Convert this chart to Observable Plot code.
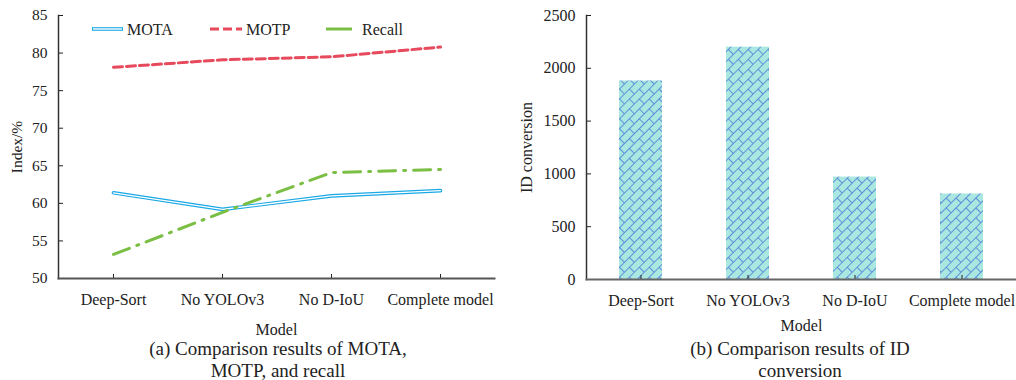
<!DOCTYPE html>
<html>
<head>
<meta charset="utf-8">
<script src="https://cdn.jsdelivr.net/npm/d3@7"></script>
<script src="https://cdn.jsdelivr.net/npm/@observablehq/plot@0.6"></script>
<style>
  html, body { margin: 0; padding: 0; background: #fff; }
  #wrap { position: relative; width: 1016px; height: 380px; overflow: hidden; font-family: "Liberation Serif", serif; color: #222; }
  #left { position: absolute; left: 0; top: 0; }
  #right { position: absolute; left: 500px; top: 0; }
  .cap { position: absolute; top: 338px; font-size: 19px; line-height: 22px; text-align: center; white-space: nowrap; transform: translateX(-50%); }
  #legend { position: absolute; left: 0; top: 0; }
</style>
</head>
<body>
<div id="wrap">
  <div id="left"></div>
  <div id="right"></div>
  <svg id="legend" width="500" height="50"></svg>
  <div class="cap" style="left:278px">(a) Comparison results of MOTA,<br>MOTP, and recall</div>
  <div class="cap" style="left:800px">(b) Comparison results of ID<br>conversion</div>
</div>
<script>
// ---- data ----
const models = ["Deep-Sort", "No YOLOv3", "No D-IoU", "Complete model"];
const mota = [61.4, 59.2, 61.0, 61.7];
const motp = [78.1, 79.1, 79.5, 80.8];
const recall = [53.2, 58.8, 64.1, 64.5];
const idConversion = [1880, 2200, 970, 810];
const indexTicks = [50, 55, 60, 65, 70, 75, 80, 85];
const idTicks = [0, 500, 1000, 1500, 2000, 2500];
const seriesNames = ["MOTA", "MOTP", "Recall"];

const colMOTA = "#1aa8e6", colMOTP = "#e64a5c", colRecall = "#7abf43";
const font = "15px 'Liberation Serif', serif";

const rows = (vals) => models.map((m, i) => ({model: m, value: vals[i]}));

// ---- left chart ----
const left = Plot.plot({
  width: 500, height: 340,
  marginLeft: 58, marginRight: 6, marginTop: 15, marginBottom: 62,
  style: {font, fontFamily: "'Liberation Serif', serif", fontSize: "15px", color: "#222", background: "transparent", overflow: "visible"},
  x: {type: "point", domain: models, padding: 0.5},
  y: {domain: [50, 85]},
  marks: [
    Plot.axisY({ticks: indexTicks, tickSize: -5, tickPadding: 16, label: "Index/%", labelAnchor: "center", labelOffset: 48, labelArrow: "none", fontSize: 15.5}),
    Plot.axisX({tickSize: -4, tickPadding: 19, label: "Model", labelAnchor: "center", labelOffset: 56, labelArrow: "none", fontSize: 16}),
    Plot.frame({anchor: "left", stroke: "#333", strokeWidth: 1.5}),
    Plot.frame({anchor: "bottom", stroke: "#555", strokeWidth: 2}),
    Plot.line(rows(mota), {x: "model", y: "value", stroke: colMOTA, strokeWidth: 3.6}),
    Plot.line(rows(mota), {x: "model", y: "value", stroke: "#fff", strokeWidth: 1.4}),
    Plot.line(rows(motp), {x: "model", y: "value", stroke: colMOTP, strokeWidth: 3, strokeDasharray: "9,4"}),
    Plot.line(rows(recall), {x: "model", y: "value", stroke: colRecall, strokeWidth: 3, strokeDasharray: "17,8,2,8"})
  ]
});
document.getElementById("left").appendChild(left);

// ---- legend ----
const lg = d3.select("#legend");
const legendItems = [
  {name: seriesNames[0], x1: 92, x2: 123, tx: 127},
  {name: seriesNames[1], x1: 210, x2: 242, tx: 246},
  {name: seriesNames[2], x1: 326, x2: 352, tx: 362}
];
const ly = 29;
lg.append("line").attr("x1", legendItems[0].x1).attr("x2", legendItems[0].x2).attr("y1", ly).attr("y2", ly).attr("stroke", colMOTA).attr("stroke-width", 3.6);
lg.append("line").attr("x1", legendItems[0].x1 + 1).attr("x2", legendItems[0].x2 - 1).attr("y1", ly).attr("y2", ly).attr("stroke", "#fff").attr("stroke-width", 1.4);
lg.append("line").attr("x1", legendItems[1].x1).attr("x2", legendItems[1].x2).attr("y1", ly).attr("y2", ly).attr("stroke", colMOTP).attr("stroke-width", 3).attr("stroke-dasharray", "9,4");
lg.append("line").attr("x1", legendItems[2].x1).attr("x2", legendItems[2].x2).attr("y1", ly).attr("y2", ly).attr("stroke", colRecall).attr("stroke-width", 3);
legendItems.forEach(d => {
  lg.append("text").attr("x", d.tx).attr("y", ly).attr("dy", "0.35em")
    .attr("font-family", "'Liberation Serif', serif").attr("font-size", 16).attr("fill", "#222").text(d.name);
});

// ---- right chart ----
const right = Plot.plot({
  width: 516, height: 340,
  marginLeft: 86, marginRight: 0, marginTop: 15, marginBottom: 61,
  style: {font, fontFamily: "'Liberation Serif', serif", fontSize: "15px", color: "#222", background: "transparent", overflow: "visible"},
  x: {type: "band", domain: models, paddingInner: 0.6, paddingOuter: 0.3},
  y: {domain: [0, 2500]},
  marks: [
    Plot.barY(models.map((m, i) => ({model: m, value: idConversion[i]})), {x: "model", y: "value", fill: "url(#brick)"}),
    Plot.axisY({ticks: idTicks, tickFormat: d => String(d), tickSize: -5, tickPadding: 16, label: "ID conversion", labelAnchor: "center", labelOffset: 66, labelArrow: "none", fontSize: 16}),
    Plot.axisX({tickSize: -4, tickPadding: 19, label: "Model", labelAnchor: "center", labelOffset: 51, labelArrow: "none", fontSize: 16}),
    Plot.frame({anchor: "left", stroke: "#333", strokeWidth: 1.5}),
    Plot.frame({anchor: "bottom", stroke: "#666", strokeWidth: 2})
  ]
});
const defs = d3.select(right).insert("defs", ":first-child");
const pat = defs.append("pattern").attr("id", "brick").attr("patternUnits", "userSpaceOnUse")
  .attr("width", 14).attr("height", 14).attr("patternTransform", "rotate(-45)");
pat.append("rect").attr("width", 14).attr("height", 14).attr("fill", "#a9e7e1");
pat.append("path").attr("d", "M0,0.5H14 M0,7.5H14 M0.5,0V7.5 M7.5,7.5V14").attr("stroke", "#5a84d8").attr("stroke-width", 0.9).attr("fill", "none");
document.getElementById("right").appendChild(right);
</script>
</body>
</html>
